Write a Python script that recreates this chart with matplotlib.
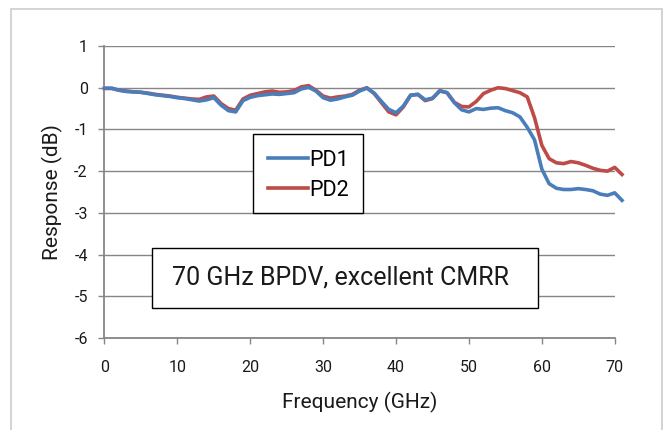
import matplotlib
matplotlib.use("Agg")
import matplotlib.pyplot as plt
from matplotlib.patches import Rectangle

plt.rcParams['font.family'] = ['Roboto', 'DejaVu Sans']
plt.rcParams['axes.unicode_minus'] = False

freq = [0, 1, 2, 3, 4, 5, 6, 7, 8, 9, 10, 11, 12, 13, 14, 15, 16, 17, 18, 19,
        20, 21, 22, 23, 24, 25, 26, 27, 28, 29, 30, 31, 32, 33, 34, 35, 36, 37,
        38, 39, 40, 41, 42, 43, 44, 45, 46, 47, 48, 49, 50, 51, 52, 53, 54, 55,
        56, 57, 58, 59, 60, 61, 62, 63, 64, 65, 66, 67, 68, 69, 70, 71]

pd1 = [-0.02, -0.01, -0.06, -0.09, -0.10, -0.11, -0.14, -0.17, -0.19, -0.21,
       -0.24, -0.26, -0.29, -0.32, -0.29, -0.24, -0.42, -0.55, -0.58, -0.31,
       -0.23, -0.19, -0.17, -0.15, -0.16, -0.14, -0.12, -0.03, 0.01, -0.08,
       -0.24, -0.30, -0.27, -0.22, -0.18, -0.08, -0.01, -0.13, -0.33, -0.52,
       -0.60, -0.44, -0.18, -0.16, -0.29, -0.25, -0.08, -0.12, -0.36, -0.53,
       -0.58, -0.50, -0.52, -0.49, -0.48, -0.55, -0.60, -0.70, -0.95, -1.25,
       -1.95, -2.30, -2.41, -2.44, -2.44, -2.42, -2.44, -2.47, -2.55, -2.58,
       -2.52, -2.70]

pd2 = [-0.01, -0.02, -0.06, -0.08, -0.10, -0.11, -0.13, -0.16, -0.18, -0.20,
       -0.23, -0.25, -0.27, -0.28, -0.22, -0.20, -0.38, -0.50, -0.54, -0.27,
       -0.18, -0.14, -0.10, -0.08, -0.11, -0.10, -0.07, 0.02, 0.05, -0.06,
       -0.20, -0.25, -0.22, -0.20, -0.16, -0.06, 0.00, -0.14, -0.36, -0.58,
       -0.65, -0.46, -0.18, -0.16, -0.31, -0.26, -0.07, -0.12, -0.35, -0.45,
       -0.46, -0.33, -0.14, -0.06, 0.00, -0.02, -0.07, -0.12, -0.22, -0.72,
       -1.38, -1.70, -1.80, -1.82, -1.77, -1.80, -1.86, -1.93, -1.98, -2.00,
       -1.91, -2.08]

xticks = [0, 10, 20, 30, 40, 50, 60, 70]
yticks = [1, 0, -1, -2, -3, -4, -5, -6]

fig = plt.figure(figsize=(6.67, 4.30), dpi=100)
fig.patches.append(Rectangle((11 / 667, -0.05), (662 - 11) / 667, 1.05 - 9 / 430,
                             transform=fig.transFigure, fill=False,
                             edgecolor='#C9CDD1', lw=1.2))
ax = fig.add_axes([104.5 / 667, 1 - 338 / 430, (614.7 - 104.5) / 667, (338 - 46) / 430])

gray = '#868686'
ax.plot(freq, pd1, color='#4A7EBB', lw=2.6, label='PD1', clip_on=False, zorder=3)
ax.plot(freq, pd2, color='#BE4B48', lw=2.6, label='PD2', clip_on=False, zorder=2)
ax.set_xlim(0, 70)
ax.set_ylim(-6, 1)
ax.set_xticks(xticks)
ax.set_yticks(yticks)
ax.yaxis.grid(True, color=gray, lw=1.0)
ax.set_axisbelow(True)
for s in ['top', 'right']:
    ax.spines[s].set_visible(False)
for s in ['left', 'bottom']:
    ax.spines[s].set_color(gray)
    ax.spines[s].set_linewidth(1.3)
ax.tick_params(axis='both', colors=gray, length=4, width=1.0, labelcolor='#1a1a1a',
               labelsize=11.5)
ax.tick_params(axis='x', pad=12)
ax.tick_params(axis='y', pad=8)
ax.set_xlabel('Frequency (GHz)', fontsize=15, color='#1a1a1a', labelpad=12)
ax.set_ylabel('Response (dB)', fontsize=15, color='#1a1a1a', labelpad=8)

# legend box
ax.add_patch(Rectangle((0.291, 0.427), 0.215, 0.273, transform=ax.transAxes,
                       facecolor='white', edgecolor='black', lw=1.0, zorder=5))
leg = ax.legend(loc='upper left', bbox_to_anchor=(0.32, 0.645), frameon=False,
                fontsize=15.5, handlelength=1.85, handletextpad=0.1, labelspacing=0.42,
                borderpad=0, borderaxespad=0)
leg.set_zorder(6)

# annotation box
ax.add_patch(Rectangle(((152 - 104.5) / 510.2, (338 - 308) / 292), (538 - 152) / 510.2,
                       60 / 292, transform=ax.transAxes, facecolor='white',
                       edgecolor='black', lw=1.0, zorder=5))
ax.text((341 - 104.5) / 510.2, (338 - 278) / 292, '70 GHz BPDV, excellent CMRR',
        transform=ax.transAxes, ha='center', va='center', fontsize=18,
        color='#1a1a1a', zorder=6)

fig.savefig('out.png', dpi=100)
